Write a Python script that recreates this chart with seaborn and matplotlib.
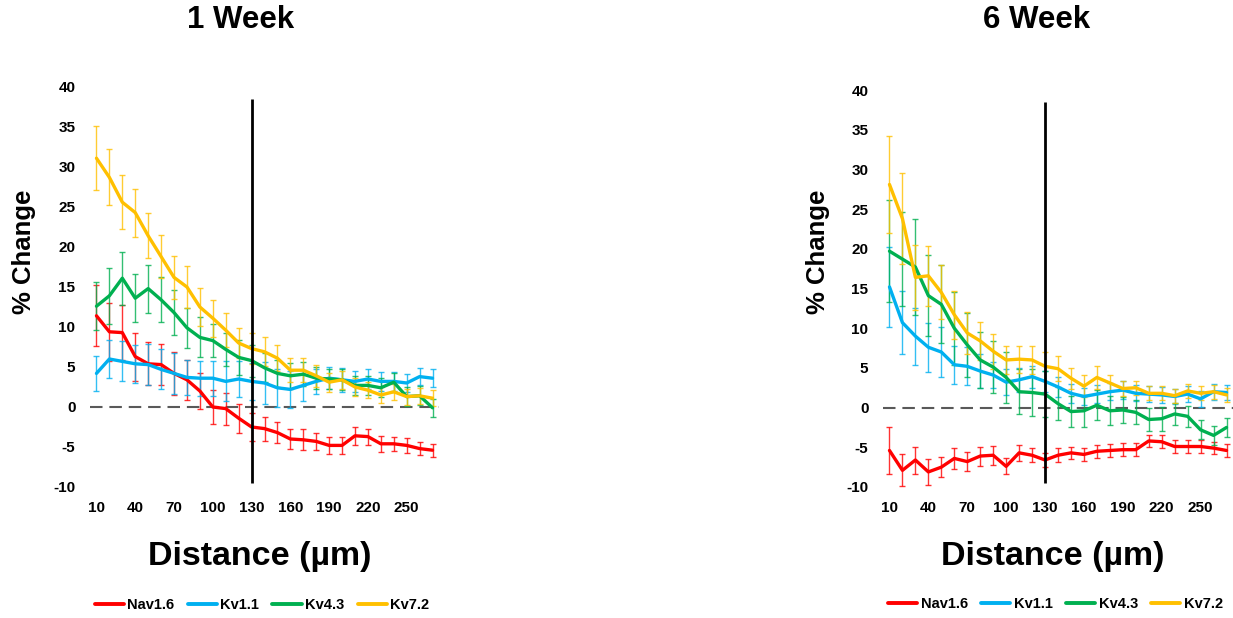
import matplotlib
matplotlib.use("Agg")
import matplotlib.pyplot as plt
import seaborn as sns
import pandas as pd
import numpy as np

# ---------------- data ----------------
distance = [10, 20, 30, 40, 50, 60, 70, 80, 90, 100, 110, 120, 130, 140, 150,
            160, 170, 180, 190, 200, 210, 220, 230, 240, 250, 260, 270]
tick_labels = [10, 40, 70, 100, 130, 160, 190, 220, 250]
channels = ["Nav1.6", "Kv1.1", "Kv4.3", "Kv7.2"]
colors = ["#FF0000", "#00B0F0", "#00B050", "#FFC000"]
panel_titles = ["1 Week", "6 Week"]

# 1 Week
nav_1w = [11.4, 9.4, 9.3, 6.3, 5.4, 5.3, 4.2, 3.4, 2.0, 0.0, -0.2, -1.4, -2.5, -2.7, -3.2,
          -4.0, -4.1, -4.3, -4.8, -4.8, -3.6, -3.7, -4.6, -4.6, -4.8, -5.2, -5.4]
nav_1w_err = [3.8, 3.6, 3.4, 3.0, 2.7, 2.6, 2.7, 2.5, 2.3, 2.1, 2.0, 1.8, 1.8, 1.5, 1.3,
              1.3, 1.3, 1.1, 1.1, 1.1, 1.1, 1.0, 1.0, 0.9, 0.9, 0.8, 0.8]
kv11_1w = [4.2, 6.0, 5.7, 5.4, 5.3, 4.7, 4.2, 3.7, 3.6, 3.6, 3.2, 3.5, 3.2, 3.0, 2.4,
           2.2, 2.7, 3.2, 3.6, 3.4, 3.2, 3.5, 3.2, 3.2, 3.0, 3.8, 3.6]
kv11_1w_err = [2.2, 2.4, 2.5, 2.4, 2.6, 2.5, 2.6, 2.2, 2.2, 2.2, 2.5, 2.3, 2.3, 2.6, 2.4,
               2.3, 1.9, 1.6, 1.4, 1.5, 1.3, 1.3, 1.2, 1.2, 1.1, 1.1, 1.1]
kv43_1w = [12.6, 13.9, 16.1, 13.6, 14.8, 13.4, 11.8, 9.9, 8.7, 8.3, 7.2, 6.2, 5.8, 4.9, 4.2,
           3.9, 4.1, 3.6, 3.5, 3.4, 2.7, 2.7, 2.4, 3.1, 1.3, 1.4, -0.1]
kv43_1w_err = [3.0, 3.5, 3.3, 3.0, 3.0, 2.8, 2.8, 2.5, 2.5, 2.1, 2.1, 2.2, 2.0, 1.8, 1.7,
               1.6, 1.5, 1.4, 1.3, 1.3, 1.2, 1.2, 1.2, 1.2, 1.2, 1.2, 1.1]
kv72_1w = [31.1, 28.7, 25.6, 24.3, 21.4, 18.8, 16.2, 15.0, 12.5, 11.1, 9.6, 8.0, 7.3, 6.9, 6.1,
           4.6, 4.6, 3.9, 3.1, 3.4, 2.5, 2.1, 1.5, 1.9, 1.3, 1.4, 1.1]
kv72_1w_err = [4.0, 3.5, 3.4, 3.0, 2.8, 2.7, 2.7, 2.6, 2.4, 2.3, 2.1, 1.9, 1.9, 1.8, 1.6,
               1.5, 1.5, 1.4, 1.2, 1.1, 1.1, 1.0, 1.0, 1.0, 1.0, 1.0, 1.0]

# 6 Week
nav_6w = [-5.4, -7.9, -6.6, -8.1, -7.5, -6.4, -6.8, -6.1, -6.0, -7.4, -5.7, -6.0, -6.6, -6.0, -5.7,
          -5.9, -5.5, -5.4, -5.3, -5.3, -4.2, -4.3, -4.9, -4.9, -4.9, -5.1, -5.4]
nav_6w_err = [2.9, 2.0, 1.7, 1.6, 1.3, 1.3, 1.2, 1.2, 1.2, 1.0, 1.0, 0.9, 0.9, 0.9, 0.8,
              0.8, 0.8, 0.8, 0.8, 0.8, 0.8, 0.8, 0.8, 0.8, 0.8, 0.8, 0.8]
kv11_6w = [15.2, 10.7, 9.0, 7.6, 7.0, 5.4, 5.2, 4.6, 4.1, 3.2, 3.5, 3.9, 3.3, 2.6, 1.8,
           1.4, 1.7, 2.0, 2.2, 1.8, 1.7, 1.6, 1.4, 1.7, 1.1, 2.0, 1.9]
kv11_6w_err = [5.0, 4.0, 3.6, 3.1, 3.1, 2.4, 2.4, 2.1, 1.6, 1.6, 1.5, 1.4, 1.3, 1.3, 1.2,
               1.1, 1.1, 1.1, 1.1, 1.0, 1.0, 1.0, 1.0, 1.0, 1.0, 1.0, 1.0]
kv43_6w = [19.7, 18.7, 17.7, 14.1, 13.0, 10.0, 7.9, 6.0, 5.1, 3.8, 2.0, 1.9, 1.7, 0.5, -0.5,
           -0.4, 0.3, -0.4, -0.3, -0.6, -1.5, -1.4, -0.8, -1.1, -2.8, -3.5, -2.5]
kv43_6w_err = [6.4, 5.9, 6.1, 5.1, 4.9, 4.6, 4.0, 3.5, 3.3, 3.2, 2.8, 2.9, 2.9, 2.1, 1.9,
               2.0, 1.9, 1.8, 1.6, 1.5, 1.4, 1.5, 1.4, 1.3, 1.2, 1.2, 1.2]
kv72_6w = [28.1, 23.8, 16.4, 16.6, 14.5, 11.7, 9.4, 8.4, 7.1, 6.0, 6.1, 6.0, 5.2, 4.9, 3.7,
           2.7, 3.8, 3.1, 2.4, 2.5, 1.8, 1.8, 1.5, 2.1, 1.8, 2.0, 1.6]
kv72_6w_err = [6.1, 5.7, 4.1, 3.8, 3.4, 3.0, 2.6, 2.4, 2.2, 1.8, 1.7, 1.8, 1.8, 1.6, 1.3,
               1.4, 1.5, 1.0, 1.0, 0.9, 0.9, 0.9, 0.9, 0.9, 0.9, 0.9, 0.9]

panels = [
    ([nav_1w, kv11_1w, kv43_1w, kv72_1w], [nav_1w_err, kv11_1w_err, kv43_1w_err, kv72_1w_err]),
    ([nav_6w, kv11_6w, kv43_6w, kv72_6w], [nav_6w_err, kv11_6w_err, kv43_6w_err, kv72_6w_err]),
]

# ---------------- style ----------------
sns.set_style("white")
plt.rcParams["font.family"] = ["Liberation Sans", "DejaVu Sans"]
plt.rcParams["font.weight"] = "bold"
plt.rcParams["axes.unicode_minus"] = False
plt.rcParams["text.color"] = "black"
plt.rcParams["xtick.color"] = "black"
plt.rcParams["ytick.color"] = "black"
plt.rcParams["axes.labelcolor"] = "black"

fig = plt.figure(figsize=(12.33, 6.18), dpi=100)
axes_rects = [[90 / 1233, 1 - 487 / 618, 349 / 1233, 400 / 618],
              [883 / 1233, 1 - 487 / 618, 350 / 1233, 397 / 618]]
title_x = [241 / 1233, 1037 / 1233]
ylabel_x = [24 / 1233, 818 / 1233]
xlabel_x = [260 / 1233, 1053 / 1233]

for p, (vals, errs) in enumerate(panels):
    ax = fig.add_axes(axes_rects[p])
    rows = []
    for ch, v in zip(channels, vals):
        for d, y in zip(distance, v):
            rows.append({"distance": d, "value": y, "channel": ch})
    df = pd.DataFrame(rows)

    ax.axhline(0, color="#595959", lw=1.5, dashes=(6, 3.3), zorder=1)

    for ch, v, e, c in zip(channels, vals, errs, colors):
        ax.errorbar(distance, v, yerr=e, fmt="none", ecolor=c, elinewidth=1.0,
                    capsize=2.2, capthick=1.0, alpha=0.8, zorder=2)

    sns.lineplot(data=df, x="distance", y="value", hue="channel", hue_order=channels,
                 palette=colors, linewidth=2.4, ax=ax, errorbar=None, sort=False,
                 zorder=3)

    ax.vlines(130, -9.5, 38.5, color="black", lw=2.0, zorder=4)

    ax.set_xlim(5, 275)
    ax.set_ylim(-10, 40)
    ax.set_xticks(tick_labels)
    ax.set_xticklabels([str(t) for t in tick_labels])
    ax.set_yticks(np.arange(-10, 41, 5))
    ax.tick_params(axis="both", length=0, labelsize=11, colors="black")
    ax.tick_params(axis="y", pad=10.5)
    ax.tick_params(axis="x", pad=10)
    for lab in ax.get_xticklabels() + ax.get_yticklabels():
        lab.set_fontweight("bold")
    for s in ax.spines.values():
        s.set_visible(False)
    ax.set_xlabel("")
    ax.set_ylabel("")

    sns.move_legend(ax, "center", bbox_to_anchor=(0.493, -0.295), ncol=4,
                    frameon=False, title=None, fontsize=10.5, handlelength=2.0,
                    handletextpad=0.25, columnspacing=0.9)
    for t in ax.get_legend().get_texts():
        t.set_fontweight("bold")
        t.set_color("black")
    for h in ax.get_legend().legend_handles:
        h.set_linewidth(2.8)

    fig.text(title_x[p], 1 - 20 / 618, panel_titles[p], ha="center", va="center",
             fontsize=22.5, fontweight="bold", color="black")
    fig.text(ylabel_x[p], 1 - 252 / 618, "% Change", ha="center", va="center",
             rotation=90, fontsize=18.5, fontweight="bold", color="black")
    fig.text(xlabel_x[p], 1 - 557 / 618, "Distance (µm)", ha="center", va="center",
             fontsize=24.5, fontweight="bold", color="black")

fig.savefig("out.png", dpi=100, facecolor="white")
